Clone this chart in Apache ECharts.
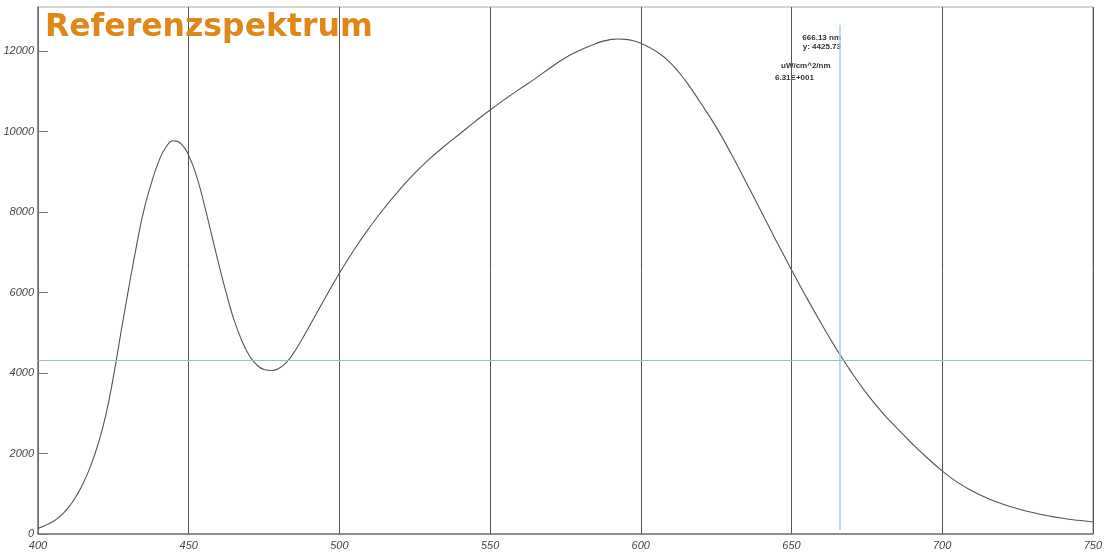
<!DOCTYPE html>
<html>
<head>
<meta charset="utf-8">
<title>Referenzspektrum</title>
<script src="https://cdn.jsdelivr.net/npm/echarts@6/dist/echarts.min.js"></script>
<style>
  html, body { margin: 0; padding: 0; background: #fff; }
  #chart { width: 1105px; height: 552px; }
</style>
</head>
<body>
<div id="chart"></div>
<script>
var wavelengths = [400, 402.5, 405, 407.5, 410, 412.5, 415, 417.5, 420, 422.5, 425, 427.5, 430, 432.5, 435, 437.5,
    440, 442.5, 445, 447.5, 450, 452.5, 455, 457.5, 460, 462.5, 465, 467.5, 470, 472.5, 475, 477.5, 480,
    482.5, 485, 487.5, 490, 495, 500, 505, 510, 515, 520, 525, 530, 535, 540, 545, 550, 555, 560, 565, 570, 575,
    580, 585, 587.5, 590, 592.5, 595, 597.5, 600, 605, 610, 615, 620, 625, 630, 635, 640, 645, 650, 655, 660, 665, 670,
    675, 680, 685, 690, 695, 700, 705, 710, 715, 720, 725, 730, 735, 740, 745, 750];
var intensity = [140, 220, 310, 450, 650, 920, 1260, 1700, 2250, 2955, 3900, 5000, 6070, 7090, 8010, 8690,
    9250, 9620, 9775, 9700, 9410, 8920, 8240, 7470, 6700, 5980, 5330, 4830, 4450, 4210, 4090, 4065, 4120,
    4270, 4520, 4830, 5160, 5830, 6480, 7080, 7620, 8110, 8560, 8970, 9330, 9650, 9950, 10250, 10540, 10810, 11070, 11320, 11590, 11840,
    12030, 12187, 12252, 12291, 12306, 12295, 12260, 12199, 12003, 11700, 11250, 10700, 10120, 9450, 8740, 8010, 7280, 6570, 5880, 5220, 4590, 4010,
    3490, 3030, 2630, 2250, 1895, 1570, 1290, 1070, 890, 745, 630, 535, 455, 390, 340, 300];
var yTicks = [0, 2000, 4000, 6000, 8000, 10000, 12000];
// cursor
var cursorX = 666.13;
var cursorY = 4310;
var cursorTexts = ['666.13 nm', 'y: 4425.73', 'uW/cm^2/nm', '6.31E+001'];

var chart = echarts.init(document.getElementById('chart'));

var points = wavelengths.map(function(w, i) {
    return [w, intensity[i]];
});

var labelFont = {
    color: '#444',
    fontSize: 11,
    fontStyle: 'italic',
    fontFamily: 'Liberation Sans'
};

var option = {
    backgroundColor: '#fff',
    animation: false,
    title: {
        text: 'Referenzspektrum',
        left: 40,
        top: 7,
        textStyle: {
            color: '#DF8718',
            fontSize: 31.5,
            fontWeight: 'bold',
            fontFamily: 'DejaVu Sans'
        }
    },
    grid: {
        left: 38,
        right: 10,
        top: 7,
        bottom: 18,
        show: true,
        borderColor: '#aaa',
        borderWidth: 1
    },
    xAxis: {
        type: 'value',
        min: 400,
        max: 750,
        interval: 50,
        axisLine: { show: true, lineStyle: { color: '#777', width: 1.5 } },
        axisTick: { show: false },
        axisLabel: Object.assign({ margin: 6 }, labelFont),
        splitLine: { show: true, lineStyle: { color: '#555', width: 1 } }
    },
    yAxis: {
        type: 'value',
        min: 0,
        max: 13100,
        interval: 2000,
        axisLine: { show: true, lineStyle: { color: '#777', width: 1.5 } },
        axisTick: {
            show: true,
            inside: true,
            length: 10,
            customValues: yTicks,
            lineStyle: { color: '#777' }
        },
        axisLabel: Object.assign({
            customValues: yTicks,
            margin: 4,
            formatter: function(v) { return String(v); }
        }, labelFont),
        splitLine: { show: false }
    },
    series: [{
        type: 'line',
        data: points,
        smooth: 0.5,
        smoothConstraint: false,
        showSymbol: false,
        lineStyle: { color: '#555', width: 1.1 },
        markLine: {
            silent: true,
            symbol: 'none',
            label: { show: false },
            data: [
                [{ coord: [cursorX, 100], lineStyle: { color: '#9ed2dc', width: 1.5, type: 'solid' } },
                 { coord: [cursorX, 12660] }],
                [{ coord: [400, cursorY], lineStyle: { color: '#96c2bd', width: 1, type: 'solid' } },
                 { coord: [750, cursorY] }]
            ]
        }
    }],
    graphic: [
        { type: 'text', right: 1105 - 841, top: 34, style: { text: cursorTexts[0], fill: '#333', font: 'bold 8px Liberation Sans' } },
        { type: 'text', right: 1105 - 841, top: 43, style: { text: cursorTexts[1], fill: '#333', font: 'bold 8px Liberation Sans' } },
        { type: 'text', left: 781, top: 62, style: { text: cursorTexts[2], fill: '#333', font: 'bold 8px Liberation Sans' } },
        { type: 'text', left: 775, top: 74, style: { text: cursorTexts[3], fill: '#333', font: 'bold 8px Liberation Sans' } }
    ]
};

chart.setOption(option);

window.addEventListener('resize', function() {
    chart.resize();
});
</script>
</body>
</html>
